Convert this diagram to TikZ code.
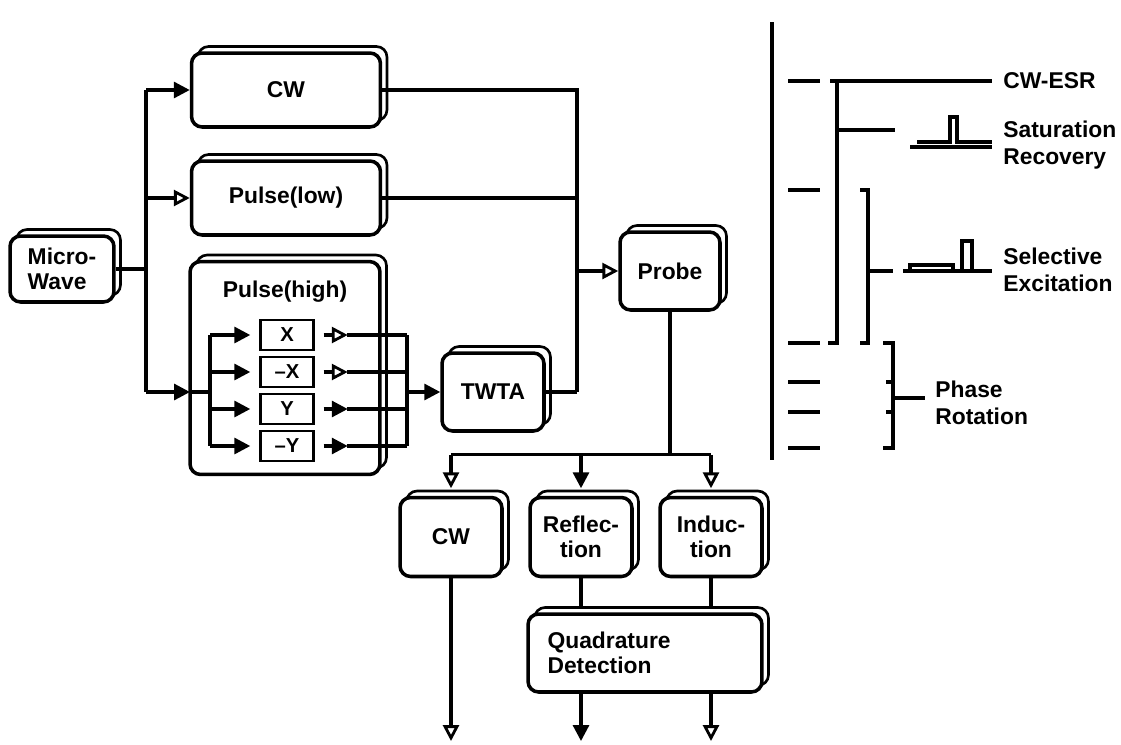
\documentclass[tikz,border=0pt]{standalone}
\usepackage{fontspec}
\setmainfont{Liberation Sans}
\usetikzlibrary{arrows.meta, positioning, shadows}

\begin{document}
\begin{tikzpicture}[
  x=0.02cm, y=-0.02cm,
  blk/.style={rectangle, rounded corners=6pt, draw, line width=2pt, fill=white,
              copy shadow={shadow xshift=0.13cm, shadow yshift=0.13cm,
                           draw=black, fill=white, line width=1.5pt},
              align=center, inner sep=2pt,
              font=\bfseries\fontsize{13}{14.5}\selectfont},
  sel/.style={rectangle, draw, line width=1.4pt, fill=white,
              minimum width=1.06cm, minimum height=0.6cm,
              font=\bfseries\fontsize{11.5}{12}\selectfont},
  wire/.style={line width=1.8pt},
  fa/.style={wire, -{Triangle[length=9pt, width=9pt]}},
  oa/.style={wire, -{Triangle[open, length=9pt, width=9pt, line width=1.6pt]}},
  lbl/.style={align=left, inner sep=0pt,
              font=\bfseries\fontsize{13}{15}\selectfont}
]
  \useasboundingbox (0,0) rectangle (1121,744);

  % source and branches
  \node[blk, align=left, minimum width=2.08cm, minimum height=1.32cm] (mw) at (62,269) {Micro-\\Wave};
  \node[blk, minimum width=3.78cm, minimum height=1.48cm] (cw) at (286,90) {CW};
  \node[blk, minimum width=3.78cm, minimum height=1.48cm] (plow) at (286,198) {Pulse(low)};
  \node[blk, minimum width=3.8cm, minimum height=4.26cm] (ph) at (285,368) {};
  \node[lbl] (phname) at (285,292) {Pulse(high)};

  \node[blk, minimum width=2.04cm, minimum height=1.56cm] (twta) at (493,392) {TWTA};
  \node[blk, minimum width=2.0cm, minimum height=1.56cm] (probe) at (670,271) {Probe};

  % detection
  \node[blk, minimum width=2.04cm, minimum height=1.58cm] (dcw) at (451,537) {CW};
  \node[blk, minimum width=2.04cm, minimum height=1.58cm] (refl) at (581,537) {Reflec-\\tion};
  \node[blk, minimum width=2.04cm, minimum height=1.58cm] (ind) at (711,537) {Induc-\\tion};
  \node[blk, align=left, text width=3.9cm, inner xsep=0.39cm,
        minimum height=1.56cm] (qd) at (645,653) {Quadrature\\Detection};

  \coordinate (tr) at (146,269);
  \coordinate (phin) at (190,392);
  \coordinate (bus1) at (210,392);
  \coordinate (bus2) at (407,392);
  \coordinate (col) at (577,392);

  \draw[wire] (mw.east) -- (tr);
  \draw[wire] (tr |- cw.west) -- (tr |- phin);
  \draw[fa] (tr |- cw.west) -- (cw.west);
  \draw[oa] (tr |- plow.west) -- (plow.west);
  \draw[fa] (tr |- phin) -- (phin);
  \draw[wire] (phin) -- (bus1);

  % phase selection
  \foreach \n/\t/\y/\tip in {sx/X/335/oa, smx/--X/372/oa, sy/Y/409/fa, smy/--Y/446/fa} {
    \node[sel] (\n) at (287,\y) {\t};
    \draw[fa, shorten >=0.18cm] (bus1 |- \n.west) -- (\n.west);
    \draw[\tip] ([xshift=0.18cm]\n.east) -- ++(24,0);
    \draw[wire] ([xshift=0.64cm]\n.east) -- (bus2 |- \n.east);
  }
  \draw[wire] (bus1 |- sx) -- (bus1 |- smy);
  \draw[wire] (bus2 |- sx) -- (bus2 |- smy);
  \draw[fa] (bus2) -- (twta.west);

  \draw[wire] (cw.east) -| (col);
  \draw[wire] (plow.east) -- (col |- plow.east);
  \draw[wire] (twta.east) -- (col);
  \draw[oa] (col |- probe.west) -- (probe.west);

  \draw[wire] (probe.south) -- ++(0,143) coordinate (spl);
  \draw[wire] (dcw.north |- spl) -- (ind.north |- spl);
  \draw[oa, shorten >=0.15cm] (dcw.north |- spl) -- (dcw.north);
  \draw[fa, shorten >=0.15cm] (refl.north |- spl) -- (refl.north);
  \draw[oa, shorten >=0.15cm] (ind.north |- spl) -- (ind.north);

  \draw[wire, shorten >=0.13cm] (refl.south) -- (refl.south |- qd.north);
  \draw[wire, shorten >=0.13cm] (ind.south) -- (ind.south |- qd.north);

  \coordinate (o1) at (451,741);
  \coordinate (o2) at (581,741);
  \coordinate (o3) at (711,741);
  \draw[oa] (dcw.south) -- (o1);
  \draw[fa] (o2 |- qd.south) -- (o2);
  \draw[oa] (o3 |- qd.south) -- (o3);

  % experiment modes
  \draw[wire] (772,22) -- (772,460);
  \foreach \y in {81,190,343,382,412,448}
    \draw[wire] (788,\y) -- (820,\y);

  \draw[wire] (830,81) -- (992,81);
  \draw[wire] (837,81) -- (837,343) -- (828,343);
  \draw[wire] (837,130) -- (895,130);
  \draw[wire] (917,142) -- (950,142) -- (950,117) -- (957,117) -- (957,142) -- (992,142);
  \draw[wire] (910,147) -- (992,147);

  \draw[wire] (860,190) -- (868,190) -- (868,343) -- (860,343);
  \draw[wire] (868,271) -- (893,271);
  \draw[wire] (903,271) -- (992,271);
  \draw[wire] (910,271) -- (910,265) -- (953,265) -- (953,271);
  \draw[wire] (962,271) -- (962,241) -- (972,241) -- (972,271);

  \draw[wire] (883,343) -- (893,343) -- (893,448) -- (883,448);
  \draw[wire] (886,382) -- (893,382);
  \draw[wire] (886,412) -- (893,412);
  \draw[wire] (893,398) -- (925,398);

  \node[lbl, anchor=west] (esr) at (1003,81) {CW-ESR};
  \node[lbl, anchor=west] (satrec) at (1003,145) {Saturation\\Recovery};
  \node[lbl, anchor=west] (selex) at (1003,270) {Selective\\Excitation};
  \node[lbl, anchor=west] (phrot) at (935,403) {Phase\\Rotation};
\end{tikzpicture}
\end{document}
